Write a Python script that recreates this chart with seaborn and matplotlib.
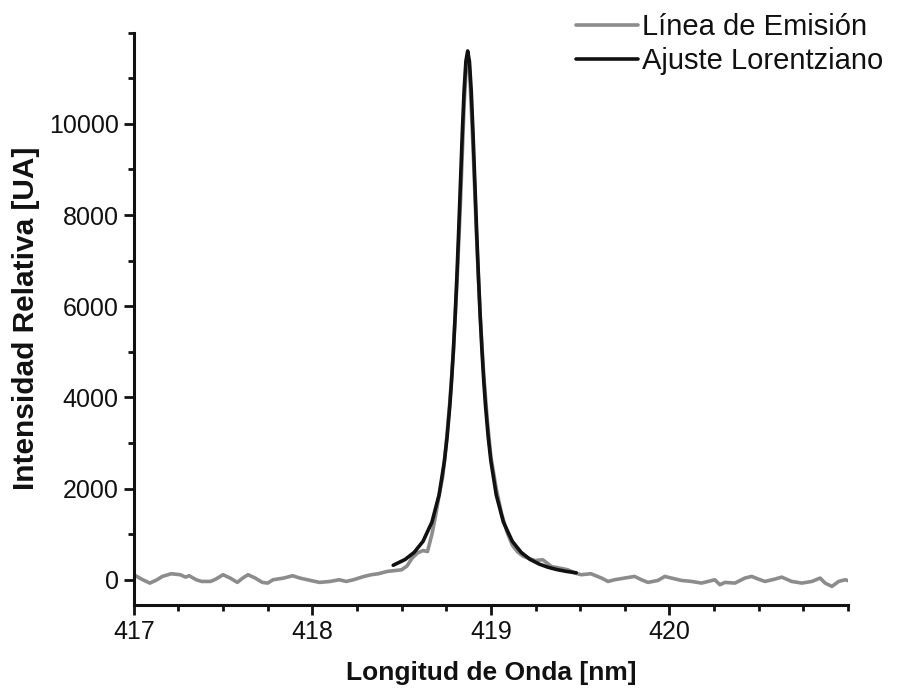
import numpy as np
import pandas as pd
import matplotlib
matplotlib.use("Agg")
import matplotlib.pyplot as plt
import seaborn as sns
from matplotlib.ticker import MultipleLocator

# --- data ---
emision_x = [417.0, 417.05, 417.09, 417.13, 417.16, 417.21, 417.26, 417.29, 417.31, 417.35,
             417.38, 417.43, 417.46, 417.50, 417.54, 417.58, 417.61, 417.64, 417.68, 417.72,
             417.75, 417.78, 417.84, 417.89, 417.93, 417.99, 418.04, 418.10, 418.15, 418.19,
             418.23, 418.29, 418.33, 418.37, 418.42, 418.46, 418.50, 418.53, 418.56, 418.59,
             418.62, 418.645, 418.67, 418.69, 418.71, 418.73, 418.75, 418.77, 418.79, 418.81,
             418.83, 418.85, 418.865, 418.88, 418.90, 418.92, 418.94, 418.96, 418.98, 419.00,
             419.03, 419.06, 419.09, 419.12, 419.15, 419.18, 419.21, 419.25, 419.29, 419.31,
             419.34, 419.38, 419.43, 419.47, 419.506, 419.56, 419.62, 419.656, 419.693, 419.749,
             419.805, 419.843, 419.88, 419.936, 419.974, 420.011, 420.067, 420.124, 420.18, 420.217,
             420.254, 420.283, 420.311, 420.367, 420.423, 420.461, 420.498, 420.535, 420.592, 420.629,
             420.685, 420.742, 420.798, 420.844, 420.872, 420.91, 420.948, 420.985, 421.0]
emision_y = [110, 0, -73, 0, 73, 132, 110, 58, 88, 0,
             -37, -37, 15, 110, 37, -58, 37, 110, 37, -58,
             -73, 0, 37, 88, 37, -15, -58, -37, 0, -37,
             0, 73, 110, 132, 183, 200, 219, 300, 480, 590,
             640, 620, 1000, 1400, 1850, 2250, 3000, 3900, 5000, 6500,
             8300, 10400, 11450, 11200, 9500, 7500, 5800, 4500, 3500, 2700,
             2000, 1450, 1050, 760, 610, 520, 470, 420, 440, 380,
             290, 260, 220, 150, 110, 132, 37, -37, 0, 37,
             73, 0, -58, -15, 73, 37, -15, -37, -73, -37,
             0, -110, -58, -73, 37, 73, 15, -37, 15, 58,
             -37, -73, -37, 37, -73, -146, -37, 0, -20]

ajuste_x = [418.453, 418.52, 418.57, 418.62, 418.67, 418.71, 418.74, 418.755, 418.77, 418.78,
            418.79, 418.80, 418.81, 418.82, 418.83, 418.84, 418.85, 418.86, 418.87, 418.88,
            418.89, 418.90, 418.91, 418.92, 418.93, 418.94, 418.95, 418.96, 418.97, 418.985,
            419.00, 419.03, 419.07, 419.12, 419.17, 419.22, 419.27, 419.32, 419.37, 419.42,
            419.478]
ajuste_y = [318, 446, 599, 843, 1266, 1864, 2607, 3136, 3815, 4372,
            5030, 5800, 6686, 7682, 8742, 9800, 10725, 11368, 11600, 11368,
            10725, 9800, 8742, 7682, 6686, 5800, 5030, 4372, 3815, 3136,
            2607, 1864, 1266, 843, 599, 446, 345, 274, 223, 185,
            152]

lbl_emision = "Línea de Emisión"
lbl_ajuste = "Ajuste Lorentziano"

df_e = pd.DataFrame({"x": emision_x, "y": emision_y})
df_a = pd.DataFrame({"x": ajuste_x, "y": ajuste_y})

sns.set_style("ticks")
plt.rcParams["font.family"] = ["Liberation Sans", "DejaVu Sans"]

fig = plt.figure(figsize=(9.04, 6.96), dpi=100)
ax = fig.add_axes([0.148, 0.131, 0.790, 0.822])

sns.lineplot(data=df_e, x="x", y="y", ax=ax, color="#8c8c8c", linewidth=2.6,
             label=lbl_emision, estimator=None, sort=False)
sns.lineplot(data=df_a, x="x", y="y", ax=ax, color="#111111", linewidth=2.6,
             label=lbl_ajuste, estimator=None, sort=False)

ax.set_xlim(417, 421)
ax.set_ylim(-550, 12000)
ax.set_xticks([417, 418, 419, 420])
ax.set_yticks([0, 2000, 4000, 6000, 8000, 10000])
ax.xaxis.set_minor_locator(MultipleLocator(0.25))
ax.yaxis.set_minor_locator(MultipleLocator(1000))

for s in ["top", "right"]:
    ax.spines[s].set_visible(False)
for s in ["left", "bottom"]:
    ax.spines[s].set_linewidth(2.2)
    ax.spines[s].set_color("#111111")

ax.tick_params(axis="both", which="major", direction="out", length=7, width=2,
               labelsize=18, colors="#111111", pad=4)
ax.tick_params(axis="both", which="minor", direction="out", length=4, width=2,
               colors="#111111")

ax.set_xlabel("Longitud de Onda [nm]", fontsize=19, fontweight="bold",
              color="#111111", labelpad=12)
ax.set_ylabel("Intensidad Relativa [UA]", fontsize=21.5, fontweight="bold",
              color="#111111", labelpad=6)

leg = ax.legend(loc="upper right", bbox_to_anchor=(0.99, 0.998),
                bbox_transform=fig.transFigure, frameon=False, fontsize=21,
                handlelength=2.1, handletextpad=0.15, labelspacing=0.2,
                borderaxespad=0)
for t in leg.get_texts():
    t.set_color("#111111")

fig.savefig("out.png", dpi=100)
